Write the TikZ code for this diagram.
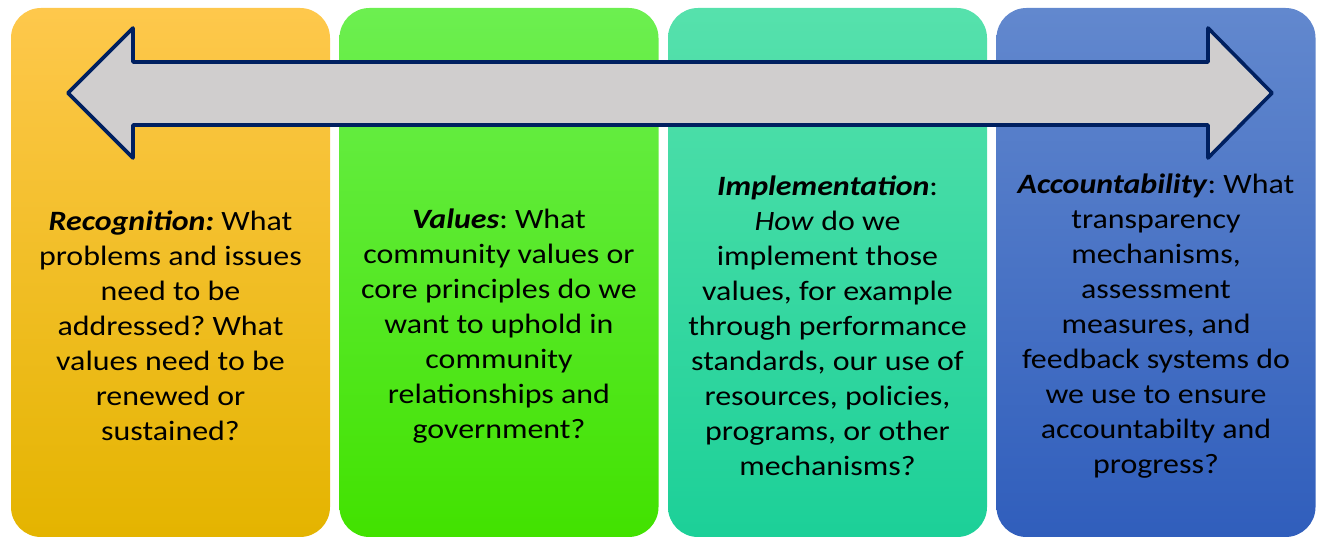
\documentclass[tikz,border=0pt]{standalone}
\usepackage{fontspec}
\setmainfont{Carlito}[FakeStretch=1.14]
\usetikzlibrary{positioning}
\frenchspacing
\definecolor{navy}{HTML}{002060}
\definecolor{arrowgrey}{HTML}{D0CECE}
\tikzstyle{panel} = [rectangle, rounded corners=30pt, minimum width=319pt, minimum height=529pt, inner sep=0pt]
\tikzstyle{question} = [align=center, text=black, font=\fontsize{28}{35}\selectfont]
\tikzstyle{bigarrow} = [draw=navy, fill=arrowgrey, line width=3.6pt, line join=round]

\begin{document}
\begin{tikzpicture}[x=1pt,y=-1pt]
	\useasboundingbox (0,0) rectangle (1319,537);
	\node [panel, top color={rgb,255:red,254;green,200;blue,76}, middle color={rgb,255:red,255;green,192;blue,0}, bottom color={rgb,255:red,228;green,180;blue,0}] (recogbox) at (170.5,272.5) {};
	\node [panel, top color={rgb,255:red,108;green,239;blue,80}, middle color={rgb,255:red,86;green,238;blue,36}, bottom color={rgb,255:red,66;green,226;blue,0}] (valuesbox) at (499,272.5) {};
	\node [panel, top color={rgb,255:red,86;green,225;blue,172}, middle color={rgb,255:red,50;green,220;blue,160}, bottom color={rgb,255:red,28;green,208;blue,152}] (implbox) at (827.5,272.5) {};
	\node [panel, top color={rgb,255:red,98;green,136;blue,206}, middle color={rgb,255:red,70;green,114;blue,198}, bottom color={rgb,255:red,48;green,94;blue,188}] (accbox) at (1156,272.5) {};
	
	\path[bigarrow] (68,93) -- (133,28) -- (133,62) -- (1208,62) -- (1208,28) -- (1272,93)
		-- (1208,158) -- (1208,125) -- (133,125) -- (133,158) -- cycle;
	
	\node [question] (recog) at (170.5,326) {\textbf{\textit{Recognition:}} What\\problems and issues\\need to be\\addressed? What\\values need to be\\renewed or\\sustained?};
	\node [question] (values) at (499,326) {\textbf{\textit{Values}}: What\\community values or\\core principles do we\\want to uphold in\\community\\relationships and\\government?};
	\node [question] (impl) at (827.5,326) {\textbf{\textit{Implementation}}:\\\textit{How} do we\\implement those\\values, for example\\through performance\\standards, our use of\\resources, policies,\\programs, or other\\mechanisms?};
	\node [question] (acc) at (1156,326) {\textbf{\textit{Accountability}}: What\\transparency\\mechanisms,\\assessment\\measures, and\\feedback systems do\\we use to ensure\\accountabilty and\\progress?};
\end{tikzpicture}
\end{document}
